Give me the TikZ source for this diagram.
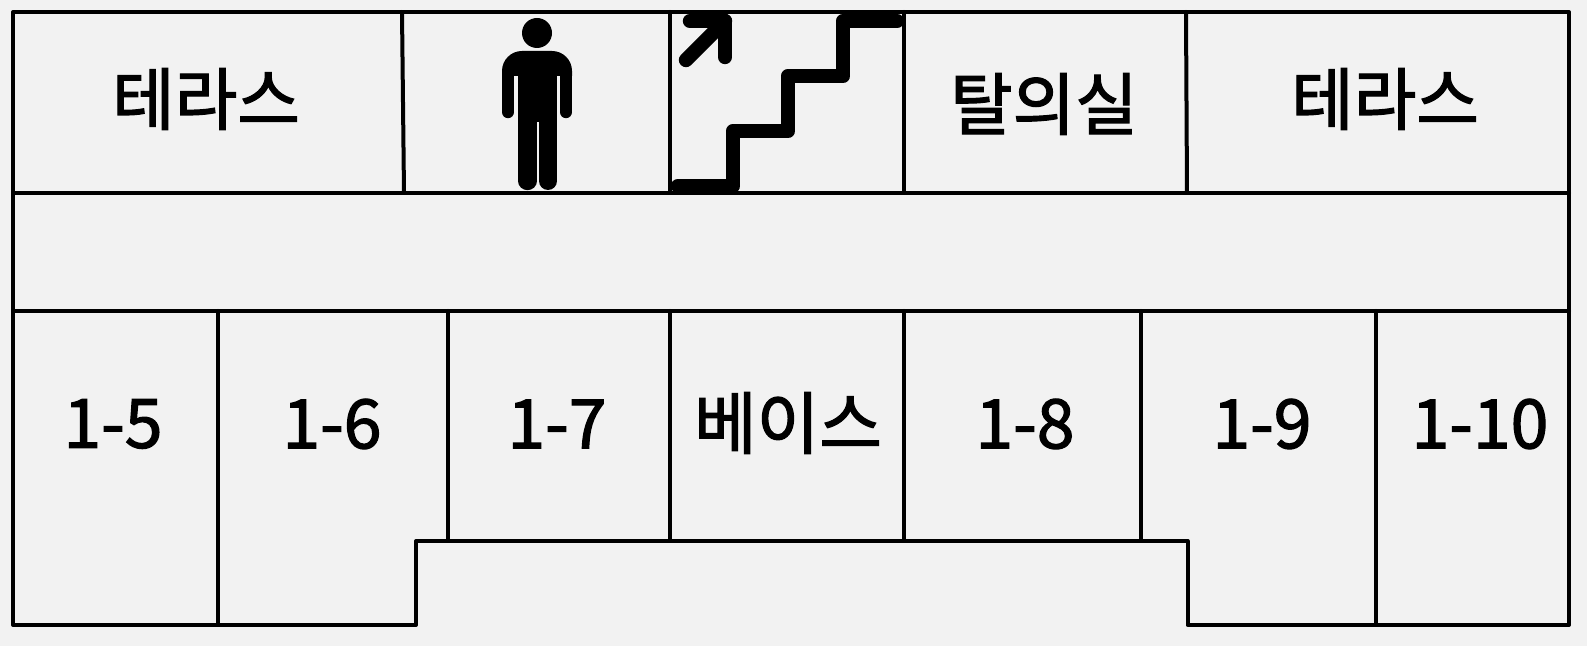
\documentclass[tikz,border=0pt]{standalone}
\usepackage{fontspec}
\setmainfont{Noto Sans CJK KR}[FakeBold=1.8]
\usepackage{xcolor}
\definecolor{floorbg}{HTML}{F2F2F2}
\tikzset{
  wall/.style={line width=2pt,line cap=round,line join=round},
  stair/.style={line width=7.2pt,line cap=round,line join=round},
  limb/.style={line cap=round},
  room/.style={inner sep=0pt,font=\fontsize{34}{38}\selectfont}
}
\begin{document}
\begin{tikzpicture}[x=0.5pt,y=-0.5pt]
    \fill [floorbg] (0,0) rectangle (1587,646);
    \useasboundingbox (0,0) rectangle (1587,646);

    % corners of the floor
    \coordinate (TL) at (13,12);
    \coordinate (TR) at (1569,12);
    \coordinate (BL) at (13,625);
    \coordinate (BR) at (1569,625);
    \coordinate (N1) at (416,625);
    \coordinate (N2) at (416,541);
    \coordinate (N3) at (1187.5,541);
    \coordinate (N4) at (1187.5,625);

    % outline
    \draw [wall] (TL) -- (TR) -- (BR) -- (N4) -- (N3) -- (N2) -- (N1) -- (BL) -- cycle;
    \draw [wall] (13,193) -- (1569,193);
    \draw [wall] (13,311.5) -- (1569,311.5);

    % upper rooms
    \draw [wall] (402,12) -- (404,193);
    \draw [wall] (670,12) -- (670,193);
    \draw [wall] (904,12) -- (904,193);
    \draw [wall] (1186,12) -- (1187,193);

    % lower rooms
    \draw [wall] (218,311) -- (218,625);
    \draw [wall] (447.5,311) -- (447.5,541);
    \draw [wall] (670,311) -- (670,541);
    \draw [wall] (904,311) -- (904,541);
    \draw [wall] (1141,311) -- (1141,541);
    \draw [wall] (1376,311) -- (1376,625);

    % person
    \fill (537,33) circle (15);
    \fill (502,76) -- (502,71) arc[start angle=180,end angle=270,radius=20] -- (552,51)
        arc[start angle=270,end angle=360,radius=20] -- (572,76) -- cycle;
    \fill (518,60) rectangle (557,122);
    \draw [limb,line width=6.2pt] (508,76) -- (508,112);
    \draw [limb,line width=6.2pt] (566,76) -- (566,112);
    \draw [limb,line width=9.2pt] (527.5,110) -- (527.5,181);
    \draw [limb,line width=9pt] (548,110) -- (548,181);

    % stairs and arrow
    \draw [stair] (678,186) -- (733,186) -- (733,131) -- (788,131) -- (788,76) -- (843,76) -- (843,21) -- (897,21);
    \draw [stair] (686,60) -- (725,21);
    \draw [stair] (690,21) -- (725,21) -- (725,57);

    % labels
    \node [room] (terraceA) at (206,99) {테라스};
    \node [room] (dress) at (1044,104) {탈의실};
    \node [room] (terraceB) at (1385,99) {테라스};
    \node [room] (r15) at (113,424) {1-5};
    \node [room] (r16) at (332,424) {1-6};
    \node [room] (r17) at (557,424) {1-7};
    \node [room] (base) at (788,423) {베이스};
    \node [room] (r18) at (1025,424) {1-8};
    \node [room] (r19) at (1262,424) {1-9};
    \node [room] (r110) at (1480,424) {1-10};
\end{tikzpicture}
\end{document}
